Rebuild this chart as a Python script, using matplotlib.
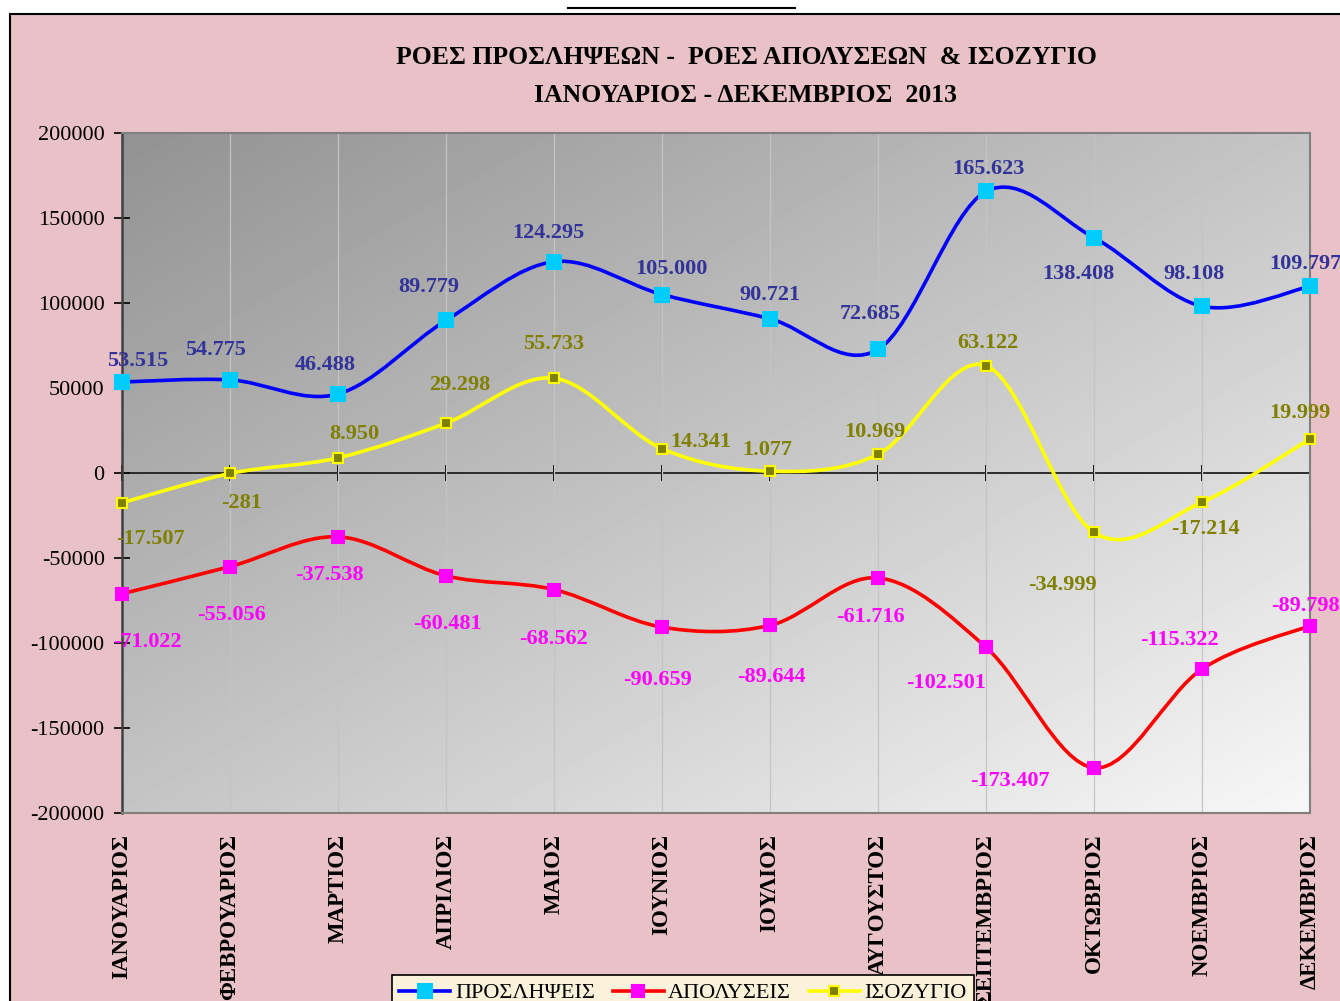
import matplotlib.pyplot as plt
import numpy as np
from matplotlib.path import Path
from matplotlib.patches import PathPatch, Rectangle
from matplotlib.lines import Line2D

plt.rcParams['axes.unicode_minus'] = False
plt.rcParams['font.family'] = ['Liberation Serif', 'DejaVu Serif']

months = ['ΙΑΝΟΥΑΡΙΟΣ', 'ΦΕΒΡΟΥΑΡΙΟΣ', 'ΜΑΡΤΙΟΣ', 'ΑΠΡΙΛΙΟΣ', 'ΜΑΙΟΣ', 'ΙΟΥΝΙΟΣ',
          'ΙΟΥΛΙΟΣ', 'ΑΥΓΟΥΣΤΟΣ', 'ΣΕΠΤΕΜΒΡΙΟΣ', 'ΟΚΤΩΒΡΙΟΣ', 'ΝΟΕΜΒΡΙΟΣ', 'ΔΕΚΕΜΒΡΙΟΣ']
hires = [53515, 54775, 46488, 89779, 124295, 105000, 90721, 72685, 165623, 138408, 98108, 109797]
fires = [-71022, -55056, -37538, -60481, -68562, -90659, -89644, -61716, -102501, -173407, -115322, -89798]
balance = [-17507, -281, 8950, 29298, 55733, 14341, 1077, 10969, 63122, -34999, -17214, 19999]

# label offsets in pixels (dx, dy)
hires_off = [(16, 21), (-15, 30), (-13, 29), (-17, 33), (-6, 29), (9, 25),
             (0, 24), (-8, 35), (2, 22), (-16, -36), (-8, 32), (-5, 22)]
bal_off = [(28, -36), (12, -30), (16, 24), (14, 38), (0, 34), (39, 7),
           (-3, 21), (-3, 22), (2, 23), (-32, -53), (3, -27), (-10, 26)]
fires_off = [(25, -48), (2, -48), (-9, -38), (1, -48), (0, -49), (-5, -53),
             (1, -52), (-8, -39), (-40, -36), (-84, -13), (-23, 29), (-5, 20)]


def smooth_path(x, y):
    # excel-like smoothed line: bezier segments through the points
    pts = np.column_stack([x, y]).astype(float)
    n = len(pts)
    verts = [pts[0]]
    codes = [Path.MOVETO]
    for i in range(n - 1):
        p0 = pts[max(i - 1, 0)]
        p1 = pts[i]
        p2 = pts[i + 1]
        p3 = pts[min(i + 2, n - 1)]
        c1 = p1 + (p2 - p0) / 6
        c2 = p2 - (p3 - p1) / 6
        verts += [c1, c2, p2]
        codes += [Path.CURVE4] * 3
    return Path(verts, codes)


def fmt(v):
    return f'{v:,}'.replace(',', '.')


fig = plt.figure(figsize=(13.4, 10.01), dpi=100)
fig.patch.set_facecolor('white')
fig.add_artist(Rectangle((10 / 1340, -0.01), 1.0, 1 - 14 / 1001 + 0.01, transform=fig.transFigure,
                         facecolor='#e8c2c6', edgecolor='black', lw=1.5, zorder=-10))
fig.add_artist(Line2D([568 / 1340, 795 / 1340], [1 - 8 / 1001, 1 - 8 / 1001],
                      transform=fig.transFigure, color='black', lw=1.5))

ax = fig.add_axes([122 / 1340, 188 / 1001, 1188 / 1340, 680 / 1001])
ax.set_facecolor('none')

# diagonal gray gradient of the plot area
gx, gy = np.meshgrid(np.linspace(0, 1, 200), np.linspace(1, 0, 200))
grad = (gx + (1 - gy)) / 2
ax.imshow(grad, extent=(0, 1, 0, 1), transform=ax.transAxes, cmap='gray',
          vmin=-1.45, vmax=1.08, aspect='auto', zorder=0, interpolation='bilinear')

x = np.arange(len(months))
ax.set_xlim(0, 11)
ax.set_ylim(-200000, 200000)

for xi in x:
    ax.axvline(xi, color='#c4c4c4', lw=0.9, zorder=1)

series = [
    (hires, '#0000ff', 2.6, '#00ccff', '#00ccff', 9.5, '#333399', hires_off, 'ΠΡΟΣΛΗΨΕΙΣ'),
    (fires, '#ff0000', 2.6, '#ff00ff', '#ff00ff', 8.5, '#ff00ff', fires_off, 'ΑΠΟΛΥΣΕΙΣ'),
    (balance, '#ffff00', 2.6, '#808000', '#ffff00', 7.5, '#808000', bal_off, 'ΙΣΟΖΥΓΙΟ'),
]
handles = []
for vals, lc, lw, mfc, mec, ms, tc, offs, name in series:
    ax.add_patch(PathPatch(smooth_path(x, vals), facecolor='none', edgecolor=lc, lw=lw,
                           zorder=3, clip_on=False))
    ax.plot(x, vals, linestyle='none', marker='s', mfc=mfc, mec=mec, mew=1.5, ms=ms,
            zorder=4, clip_on=False)
    for xi, v, (dx, dy) in zip(x, vals, offs):
        ax.annotate(fmt(v), (xi, v), xytext=(dx, dy), textcoords='offset pixels',
                    ha='center', va='center', fontsize=16, fontweight='bold', color=tc,
                    zorder=5, annotation_clip=False)
    handles.append(Line2D([], [], color=lc, lw=lw, marker='s', mfc=mfc, mec=mec, mew=1.5,
                          ms=ms))

ax.set_yticks(np.arange(-200000, 200001, 50000))
ax.tick_params(axis='y', direction='inout', length=11, width=1.2, labelsize=16, pad=7)
ax.set_xticks(x)
ax.set_xticklabels(months, rotation=90, fontsize=16.5, fontweight='bold', va='top')
ax.tick_params(axis='x', length=0, pad=15)

for s in ['top', 'right', 'bottom']:
    ax.spines[s].set_color('#808080')
    ax.spines[s].set_linewidth(1.5)
ax.spines['left'].set_color('#404040')
ax.spines['left'].set_linewidth(1.8)

sec = ax.secondary_xaxis(0.5)
sec.set_xticks(x)
sec.tick_params(direction='inout', length=12, width=1.2, labeltop=False, labelbottom=False,
                top=True, bottom=True)
for s in sec.spines.values():
    s.set_color('#202020')
    s.set_linewidth(1.3)

fig.text(746 / 1340, 1 - 57 / 1001, 'ΡΟΕΣ ΠΡΟΣΛΗΨΕΩΝ -  ΡΟΕΣ ΑΠΟΛΥΣΕΩΝ  & ΙΣΟΖΥΓΙΟ',
         ha='center', va='center', fontsize=18.5, fontweight='bold')
fig.text(746 / 1340, 1 - 95 / 1001, 'ΙΑΝΟΥΑΡΙΟΣ - ΔΕΚΕΜΒΡΙΟΣ  2013',
         ha='center', va='center', fontsize=18.5, fontweight='bold')

leg = fig.legend(handles, [s[-1] for s in series], loc='upper center',
                 bbox_to_anchor=(683 / 1340, 1 - 964 / 1001), ncol=3, frameon=True,
                 fancybox=False, facecolor='#fbf2dc', edgecolor='black', framealpha=1,
                 fontsize=16, handlelength=2.3, columnspacing=0.8, handletextpad=0.2,
                 borderpad=0.35)
leg.get_frame().set_linewidth(1.2)

plt.savefig('out.png', dpi=100)
